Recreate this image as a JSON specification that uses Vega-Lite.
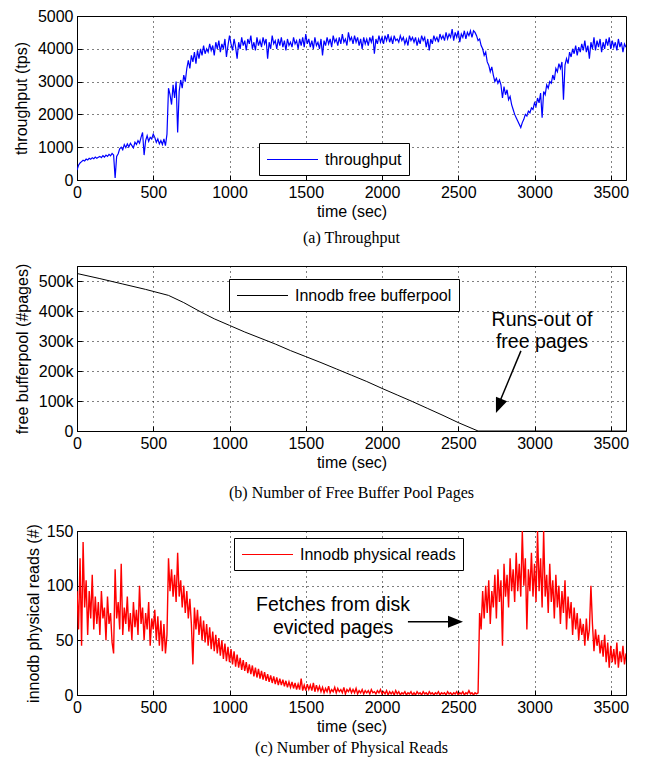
{
"$schema": "https://vega.github.io/schema/vega-lite/v6.json",
"background": "white",
"padding": {"left": 12, "top": 7, "right": 5, "bottom": 5},
"spacing": 15,
"datasets": {
"pool": [{"t":0,"v":525000},{"t":150,"v":508000},{"t":300,"v":490000},{"t":450,"v":472000},{"t":600,"v":452000},{"t":700,"v":428000},{"t":800,"v":400000},{"t":900,"v":374000},{"t":1000,"v":352000},{"t":1100,"v":330000},{"t":1200,"v":310000},{"t":1300,"v":290000},{"t":1400,"v":268000},{"t":1500,"v":248000},{"t":1600,"v":228000},{"t":1700,"v":207000},{"t":1800,"v":186000},{"t":1900,"v":165000},{"t":2000,"v":142000},{"t":2100,"v":120000},{"t":2200,"v":98000},{"t":2300,"v":75000},{"t":2400,"v":52000},{"t":2500,"v":28000},{"t":2630,"v":0},{"t":3600,"v":0}],
"notesB": [{"t":3049,"v":370000,"label":"Runs-out of"},{"t":3049,"v":297000,"label":"free pages"}],
"arrowB": [{"t":2911,"v":267000,"t2":2770,"v2":95000}],
"headB": [{"t":2747,"v":60000}],
"notesC": [{"t":1679,"c":82,"label":"Fetches from disk"},{"t":1679,"c":61,"label":"evicted pages"}],
"arrowC": [{"t":2170,"c":67,"t2":2470,"c2":67}],
"headC": [{"t":2531,"c":67}],
"main": [
{"t":0,"a":300,"c":95},{"t":10,"a":450,"c":60},{"t":20,"a":520,"c":125},{"t":30,"a":560,"c":45},{"t":40,"a":600,"c":140},{"t":50,"a":580,"c":80},{"t":60,"a":640,"c":105},{"t":70,"a":610,"c":55},{"t":80,"a":660,"c":95},{"t":90,"a":630,"c":70},
{"t":100,"a":680,"c":110},{"t":110,"a":650,"c":60},{"t":120,"a":700,"c":90},{"t":130,"a":660,"c":65},{"t":140,"a":690,"c":85},{"t":150,"a":720,"c":55},{"t":160,"a":680,"c":95},{"t":170,"a":740,"c":70},{"t":180,"a":700,"c":80},{"t":190,"a":760,"c":50},
{"t":200,"a":720,"c":90},{"t":210,"a":780,"c":65},{"t":220,"a":740,"c":75},{"t":230,"a":810,"c":48},{"t":240,"a":760,"c":38},{"t":250,"a":60,"c":115},{"t":260,"a":720,"c":70},{"t":270,"a":800,"c":85},{"t":280,"a":950,"c":60},{"t":290,"a":1000,"c":120},
{"t":300,"a":920,"c":55},{"t":310,"a":1080,"c":80},{"t":320,"a":990,"c":65},{"t":330,"a":1100,"c":90},{"t":340,"a":1010,"c":58},{"t":350,"a":1120,"c":75},{"t":360,"a":1050,"c":50},{"t":370,"a":980,"c":85},{"t":380,"a":1150,"c":62},{"t":390,"a":1080,"c":78},
{"t":400,"a":1200,"c":55},{"t":410,"a":1120,"c":100},{"t":420,"a":1300,"c":65},{"t":430,"a":1450,"c":80},{"t":440,"a":760,"c":50},{"t":450,"a":1200,"c":75},{"t":460,"a":1350,"c":60},{"t":470,"a":1180,"c":85},{"t":480,"a":1300,"c":45},{"t":490,"a":1250,"c":70},
{"t":500,"a":1400,"c":60},{"t":510,"a":1300,"c":78},{"t":520,"a":1150,"c":50},{"t":530,"a":1250,"c":72},{"t":540,"a":1100,"c":45},{"t":550,"a":1200,"c":68},{"t":560,"a":1080,"c":40},{"t":570,"a":1250,"c":65},{"t":580,"a":1050,"c":38},{"t":590,"a":1400,"c":55},
{"t":600,"a":2800,"c":125},{"t":610,"a":2600,"c":95},{"t":620,"a":2300,"c":115},{"t":630,"a":2900,"c":90},{"t":640,"a":2500,"c":110},{"t":650,"a":3000,"c":85},{"t":660,"a":1450,"c":130},{"t":670,"a":2700,"c":90},{"t":680,"a":3050,"c":105},{"t":690,"a":2800,"c":80},
{"t":700,"a":3200,"c":100},{"t":710,"a":3000,"c":75},{"t":720,"a":3400,"c":95},{"t":730,"a":3650,"c":70},{"t":740,"a":3400,"c":88},{"t":750,"a":3800,"c":65},{"t":760,"a":3600,"c":28},{"t":770,"a":3900,"c":80},{"t":780,"a":3550,"c":60},{"t":790,"a":3950,"c":78},
{"t":800,"a":3700,"c":55},{"t":810,"a":4000,"c":72},{"t":820,"a":3800,"c":50},{"t":830,"a":4100,"c":68},{"t":840,"a":3850,"c":48},{"t":850,"a":4000,"c":65},{"t":860,"a":3900,"c":45},{"t":870,"a":4150,"c":62},{"t":880,"a":3950,"c":42},{"t":890,"a":4100,"c":58},
{"t":900,"a":3800,"c":40},{"t":910,"a":4200,"c":55},{"t":920,"a":4000,"c":38},{"t":930,"a":4250,"c":52},{"t":940,"a":3900,"c":36},{"t":950,"a":4150,"c":50},{"t":960,"a":4000,"c":33},{"t":970,"a":4300,"c":47},{"t":980,"a":3750,"c":31},{"t":990,"a":4100,"c":44},
{"t":1000,"a":4400,"c":30},{"t":1010,"a":4150,"c":42},{"t":1020,"a":3950,"c":28},{"t":1030,"a":4300,"c":40},{"t":1040,"a":4050,"c":26},{"t":1050,"a":3700,"c":37},{"t":1060,"a":4200,"c":25},{"t":1070,"a":4000,"c":34},{"t":1080,"a":4350,"c":23},{"t":1090,"a":4100,"c":32},
{"t":1100,"a":4250,"c":22},{"t":1110,"a":3950,"c":30},{"t":1120,"a":4300,"c":20},{"t":1130,"a":4150,"c":28},{"t":1140,"a":4400,"c":19},{"t":1150,"a":4000,"c":27},{"t":1160,"a":4200,"c":17},{"t":1170,"a":3950,"c":25},{"t":1180,"a":4350,"c":16},{"t":1190,"a":4100,"c":24},
{"t":1200,"a":4250,"c":15},{"t":1210,"a":4050,"c":22},{"t":1220,"a":4350,"c":14},{"t":1230,"a":4150,"c":21},{"t":1240,"a":4300,"c":13},{"t":1250,"a":3700,"c":19},{"t":1260,"a":4200,"c":12},{"t":1270,"a":4000,"c":18},{"t":1280,"a":4400,"c":11},{"t":1290,"a":4150,"c":17},
{"t":1300,"a":4250,"c":10},{"t":1310,"a":4000,"c":16},{"t":1320,"a":4300,"c":9},{"t":1330,"a":4100,"c":15},{"t":1340,"a":4350,"c":9},{"t":1350,"a":4050,"c":14},{"t":1360,"a":4250,"c":8},{"t":1370,"a":3950,"c":13},{"t":1380,"a":4300,"c":7},{"t":1390,"a":4100,"c":12},
{"t":1400,"a":4200,"c":7},{"t":1410,"a":4050,"c":12},{"t":1420,"a":4350,"c":6},{"t":1430,"a":4150,"c":11},{"t":1440,"a":4250,"c":5},{"t":1450,"a":4000,"c":10},{"t":1460,"a":4300,"c":5},{"t":1470,"a":4100,"c":15},{"t":1480,"a":4350,"c":4},{"t":1490,"a":4050,"c":9},
{"t":1500,"a":4450,"c":4},{"t":1510,"a":4150,"c":10},{"t":1520,"a":4300,"c":5},{"t":1530,"a":4050,"c":9},{"t":1540,"a":4250,"c":4},{"t":1550,"a":4000,"c":11},{"t":1560,"a":4350,"c":3},{"t":1570,"a":4100,"c":9},{"t":1580,"a":4200,"c":4},{"t":1590,"a":4000,"c":8},
{"t":1600,"a":4300,"c":3},{"t":1610,"a":3800,"c":7},{"t":1620,"a":4250,"c":2},{"t":1630,"a":4100,"c":6},{"t":1640,"a":4350,"c":3},{"t":1650,"a":4150,"c":8},{"t":1660,"a":4300,"c":2},{"t":1670,"a":4050,"c":5},{"t":1680,"a":4400,"c":3},{"t":1690,"a":4200,"c":7},
{"t":1700,"a":4300,"c":2},{"t":1710,"a":4100,"c":6},{"t":1720,"a":4350,"c":3},{"t":1730,"a":4150,"c":5},{"t":1740,"a":4450,"c":2},{"t":1750,"a":4200,"c":7},{"t":1760,"a":4300,"c":1},{"t":1770,"a":4100,"c":5},{"t":1780,"a":4500,"c":3},{"t":1790,"a":4250,"c":6},
{"t":1800,"a":4350,"c":2},{"t":1810,"a":4150,"c":5},{"t":1820,"a":4400,"c":2},{"t":1830,"a":4200,"c":6},{"t":1840,"a":4350,"c":1},{"t":1850,"a":4100,"c":4},{"t":1860,"a":4300,"c":2},{"t":1870,"a":4000,"c":5},{"t":1880,"a":4350,"c":1},{"t":1890,"a":4150,"c":4},
{"t":1900,"a":4300,"c":2},{"t":1910,"a":4100,"c":4},{"t":1920,"a":4350,"c":1},{"t":1930,"a":4200,"c":5},{"t":1940,"a":4400,"c":2},{"t":1950,"a":3850,"c":3},{"t":1960,"a":4300,"c":1},{"t":1970,"a":4150,"c":4},{"t":1980,"a":4400,"c":2},{"t":1990,"a":4200,"c":5},
{"t":2000,"a":4350,"c":1},{"t":2010,"a":4150,"c":3},{"t":2020,"a":4400,"c":1},{"t":2030,"a":4250,"c":4},{"t":2040,"a":4450,"c":0},{"t":2050,"a":4200,"c":3},{"t":2060,"a":4350,"c":1},{"t":2070,"a":4150,"c":3},{"t":2080,"a":4400,"c":0},{"t":2090,"a":4250,"c":4},
{"t":2100,"a":4300,"c":1},{"t":2110,"a":4200,"c":3},{"t":2120,"a":4400,"c":0},{"t":2130,"a":4250,"c":2},{"t":2140,"a":4350,"c":1},{"t":2150,"a":4150,"c":3},{"t":2160,"a":4300,"c":0},{"t":2170,"a":4100,"c":2},{"t":2180,"a":4400,"c":1},{"t":2190,"a":4250,"c":3},
{"t":2200,"a":4350,"c":0},{"t":2210,"a":4200,"c":2},{"t":2220,"a":4350,"c":0},{"t":2230,"a":4100,"c":3},{"t":2240,"a":4300,"c":1},{"t":2250,"a":4150,"c":2},{"t":2260,"a":4400,"c":0},{"t":2270,"a":4250,"c":3},{"t":2280,"a":4350,"c":1},{"t":2290,"a":4050,"c":2},
{"t":2300,"a":4300,"c":0},{"t":2310,"a":3950,"c":3},{"t":2320,"a":4300,"c":1},{"t":2330,"a":4150,"c":2},{"t":2340,"a":4400,"c":0},{"t":2350,"a":4250,"c":2},{"t":2360,"a":4350,"c":1},{"t":2370,"a":4200,"c":3},{"t":2380,"a":4450,"c":0},{"t":2390,"a":4300,"c":2},
{"t":2400,"a":4400,"c":1},{"t":2410,"a":4250,"c":2},{"t":2420,"a":4500,"c":0},{"t":2430,"a":4300,"c":3},{"t":2440,"a":4450,"c":1},{"t":2450,"a":4350,"c":2},{"t":2460,"a":4600,"c":0},{"t":2470,"a":4250,"c":2},{"t":2480,"a":4500,"c":1},{"t":2490,"a":4350,"c":3},
{"t":2500,"a":4550,"c":0},{"t":2510,"a":4200,"c":2},{"t":2520,"a":4450,"c":1},{"t":2530,"a":4350,"c":3},{"t":2540,"a":4550,"c":0},{"t":2550,"a":4300,"c":2},{"t":2560,"a":4500,"c":1},{"t":2570,"a":4400,"c":4},{"t":2580,"a":4550,"c":1},{"t":2590,"a":4350,"c":2},
{"t":2600,"a":4550,"c":0},{"t":2610,"a":4500,"c":2},{"t":2620,"a":4400,"c":1},{"t":2630,"a":4250,"c":2},{"t":2640,"a":4300,"c":75},{"t":2650,"a":4100,"c":60},{"t":2660,"a":4000,"c":95},{"t":2670,"a":3800,"c":70},{"t":2680,"a":3900,"c":100},{"t":2690,"a":3600,"c":75},
{"t":2700,"a":3500,"c":105},{"t":2710,"a":3300,"c":65},{"t":2720,"a":3450,"c":95},{"t":2730,"a":3200,"c":80},{"t":2740,"a":3000,"c":110},{"t":2750,"a":3100,"c":70},{"t":2760,"a":2950,"c":115},{"t":2770,"a":3050,"c":85},{"t":2780,"a":2900,"c":105},{"t":2790,"a":2500,"c":45},
{"t":2800,"a":2850,"c":120},{"t":2810,"a":2600,"c":90},{"t":2820,"a":2750,"c":110},{"t":2830,"a":2450,"c":80},{"t":2840,"a":2550,"c":125},{"t":2850,"a":2300,"c":95},{"t":2860,"a":2150,"c":115},{"t":2870,"a":2000,"c":85},{"t":2880,"a":1900,"c":130},{"t":2890,"a":1800,"c":95},
{"t":2900,"a":1700,"c":120},{"t":2910,"a":1600,"c":90},{"t":2920,"a":1750,"c":150},{"t":2930,"a":1850,"c":100},{"t":2940,"a":2000,"c":125},{"t":2950,"a":1950,"c":60},{"t":2960,"a":2100,"c":115},{"t":2970,"a":2050,"c":95},{"t":2980,"a":2200,"c":130},{"t":2990,"a":2150,"c":90},
{"t":3000,"a":2350,"c":120},{"t":3010,"a":2250,"c":85},{"t":3020,"a":2500,"c":150},{"t":3030,"a":2350,"c":95},{"t":3040,"a":2650,"c":125},{"t":3050,"a":1900,"c":80},{"t":3060,"a":2700,"c":150},{"t":3070,"a":2600,"c":90},{"t":3080,"a":2900,"c":110},{"t":3090,"a":2800,"c":75},
{"t":3100,"a":3000,"c":120},{"t":3110,"a":2950,"c":85},{"t":3120,"a":3200,"c":105},{"t":3130,"a":3050,"c":70},{"t":3140,"a":3400,"c":110},{"t":3150,"a":3300,"c":80},{"t":3160,"a":3550,"c":100},{"t":3170,"a":3400,"c":65},{"t":3180,"a":3600,"c":95},{"t":3190,"a":2450,"c":75},
{"t":3200,"a":3500,"c":105},{"t":3210,"a":3700,"c":60},{"t":3220,"a":3550,"c":90},{"t":3230,"a":3900,"c":70},{"t":3240,"a":3750,"c":85},{"t":3250,"a":4000,"c":55},{"t":3260,"a":3850,"c":80},{"t":3270,"a":4100,"c":60},{"t":3280,"a":3800,"c":75},{"t":3290,"a":4050,"c":50},
{"t":3300,"a":3900,"c":70},{"t":3310,"a":4150,"c":55},{"t":3320,"a":3950,"c":65},{"t":3330,"a":4250,"c":45},{"t":3340,"a":3900,"c":70},{"t":3350,"a":4100,"c":50},{"t":3360,"a":3700,"c":60},{"t":3370,"a":4200,"c":100},{"t":3380,"a":4000,"c":65},{"t":3390,"a":4350,"c":40},
{"t":3400,"a":3950,"c":60},{"t":3410,"a":4250,"c":45},{"t":3420,"a":4050,"c":55},{"t":3430,"a":4300,"c":38},{"t":3440,"a":3900,"c":50},{"t":3450,"a":4200,"c":35},{"t":3460,"a":4000,"c":55},{"t":3470,"a":4300,"c":30},{"t":3480,"a":4100,"c":48},{"t":3490,"a":4350,"c":25},
{"t":3500,"a":4000,"c":45},{"t":3510,"a":4250,"c":30},{"t":3520,"a":4050,"c":42},{"t":3530,"a":4200,"c":28},{"t":3540,"a":3950,"c":48},{"t":3550,"a":4300,"c":25},{"t":3560,"a":4050,"c":40},{"t":3570,"a":4200,"c":30},{"t":3580,"a":3900,"c":45},{"t":3590,"a":4150,"c":28},
{"t":3600,"a":4050,"c":38}
]
},
"config": {
"view": {"stroke": "black", "strokeWidth": 1},
"axis": {"domainColor": "black", "domainWidth": 1, "grid": true, "gridColor": "#000000", "gridDash": [1, 4], "gridWidth": 1, "gridOpacity": 1, "labelFont": "Liberation Sans", "labelFontSize": 16, "labelColor": "black", "titleFont": "Liberation Sans", "titleFontSize": 16, "titleFontWeight": "normal", "titleColor": "black", "tickColor": "black", "tickSize": -5, "labelPadding": 9, "labelOverlap": false},
"axisX": {"labelFlush": false, "titlePadding": 3},
"axisY": {"titlePadding": 8},
"legend": {"strokeColor": "black", "fillColor": "white", "padding": 7, "labelFont": "Liberation Sans", "labelFontSize": 16, "labelColor": "black", "symbolType": "M-1,0L5,0", "symbolSize": 289, "symbolStrokeWidth": 1.2, "labelOffset": 40, "labelLimit": 400, "cornerRadius": 0, "strokeWidth": 1},
"title": {"font": "Liberation Serif", "fontSize": 16, "fontWeight": "normal", "color": "black", "orient": "bottom", "anchor": "middle"}
},
"resolve": {"scale": {"color": "independent"}, "legend": {"color": "independent"}},
"vconcat": [
{
"width": 549, "height": 164,
"data": {"name": "main"},
"title": {"text": "(a) Throughput", "offset": 11},
"mark": {"type": "line", "strokeWidth": 1.2, "clip": true},
"encoding": {
"x": {"field": "t", "type": "quantitative", "scale": {"domain": [0, 3600], "nice": false}, "axis": {"title": "time (sec)", "grid": true, "labelOverlap": false, "format": "d", "values": [0, 500, 1000, 1500, 2000, 2500, 3000, 3500]}},
"y": {"field": "a", "type": "quantitative", "scale": {"domain": [0, 5000], "nice": false}, "axis": {"title": "throughput (tps)", "grid": true, "labelOverlap": false, "values": [0, 1000, 2000, 3000, 4000, 5000], "format": "d"}},
"color": {"datum": "throughput", "type": "nominal", "scale": {"range": ["#0000ff"]}, "legend": {"title": null, "orient": "none", "legendX": 182, "legendY": 127}}
}
},
{
"width": 549, "height": 165,
"title": {"text": "(b) Number of Free Buffer Pool Pages", "offset": 15, "subtitle": " ", "subtitleFontSize": 3, "subtitlePadding": 2},
"encoding": {
"x": {"field": "t", "type": "quantitative", "scale": {"domain": [0, 3600], "nice": false}, "axis": {"title": "time (sec)", "grid": true, "labelOverlap": false, "format": "d", "values": [0, 500, 1000, 1500, 2000, 2500, 3000, 3500]}},
"y": {"field": "v", "type": "quantitative", "scale": {"domain": [0, 550000], "nice": false}, "axis": {"title": "free bufferpool (#pages)", "grid": true, "labelOverlap": false, "values": [0, 100000, 200000, 300000, 400000, 500000], "labelExpr": "datum.value > 0 ? (round(datum.value / 1000) + 'k') : '0'"}}
},
"layer": [
{
"data": {"name": "pool"},
"mark": {"type": "line", "strokeWidth": 1, "clip": true},
"encoding": {
"color": {"datum": "Innodb free bufferpool", "type": "nominal", "scale": {"range": ["#000000"]}, "legend": {"title": null, "orient": "none", "legendX": 152, "legendY": 13}}
}
},
{
"data": {"name": "notesB"},
"mark": {"type": "text", "font": "Liberation Sans", "fontSize": 19.5, "align": "center", "baseline": "middle", "color": "black"},
"encoding": {"text": {"field": "label"}}
},
{
"data": {"name": "arrowB"},
"mark": {"type": "rule", "color": "black", "strokeWidth": 1.5},
"encoding": {"x2": {"field": "t2"}, "y2": {"field": "v2"}}
},
{
"data": {"name": "headB"},
"mark": {"type": "point", "shape": "M0,0L-2,-0.8L-2,0.8Z", "size": 225, "filled": true, "color": "black", "opacity": 1, "angle": 112}
}
]
},
{
"width": 549, "height": 164,
"title": {"text": "(c) Number of Physical Reads", "offset": 6},
"encoding": {
"x": {"field": "t", "type": "quantitative", "scale": {"domain": [0, 3600], "nice": false}, "axis": {"title": "time (sec)", "grid": true, "labelOverlap": false, "format": "d", "values": [0, 500, 1000, 1500, 2000, 2500, 3000, 3500]}},
"y": {"field": "c", "type": "quantitative", "scale": {"domain": [0, 150], "nice": false}, "axis": {"title": "innodb physical reads (#)", "titlePadding": 5, "grid": true, "labelOverlap": false, "values": [0, 50, 100, 150]}}
},
"layer": [
{
"data": {"name": "main"},
"mark": {"type": "line", "strokeWidth": 1.4, "clip": true},
"encoding": {
"color": {"datum": "Innodb physical reads", "type": "nominal", "scale": {"range": ["#ff0000"]}, "legend": {"title": null, "orient": "none", "legendX": 157, "legendY": 7}}
}
},
{
"data": {"name": "notesC"},
"mark": {"type": "text", "font": "Liberation Sans", "fontSize": 19.5, "align": "center", "baseline": "middle", "color": "black"},
"encoding": {"text": {"field": "label"}}
},
{
"data": {"name": "arrowC"},
"mark": {"type": "rule", "color": "black", "strokeWidth": 1.5},
"encoding": {"x2": {"field": "t2"}, "y2": {"field": "c2"}}
},
{
"data": {"name": "headC"},
"mark": {"type": "point", "shape": "M0,0L-2,-0.8L-2,0.8Z", "size": 225, "filled": true, "color": "black", "opacity": 1, "angle": 0}
}
]
}
]
}
